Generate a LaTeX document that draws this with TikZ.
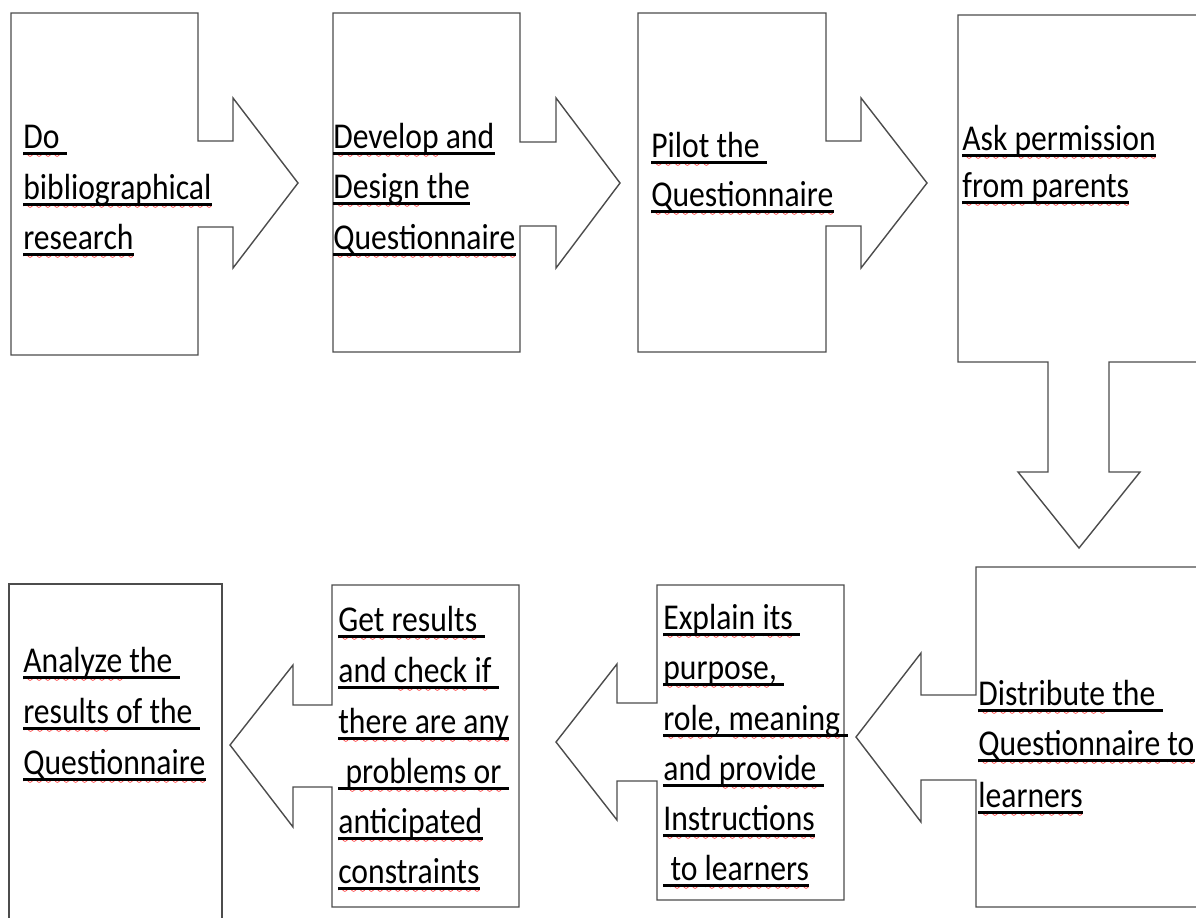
\documentclass[tikz,border=0pt]{standalone}
\usepackage{fontspec}
\setmainfont{Carlito}
\usetikzlibrary{positioning}
\font\wavefont=lasy6
\newsavebox\splbox
% red spell-check wave under a word
\newcommand\spl[1]{\sbox\splbox{#1}\rlap{\lower5.2pt\hbox to \wd\splbox{\xleaders\hbox{\wavefont\textcolor{red}{\char58}}\hfil}}\usebox\splbox}
\newcommand\trail{\ \mbox{}}

\begin{document}
\begin{tikzpicture}[x=0.02cm,y=-0.02cm]
  \tikzset{box/.style={draw=black!70, line width=0.8pt, line join=miter},
    txt/.style={anchor=base west, inner sep=0pt, yscale=1.15, transform shape,
      font=\fontsize{18}{22}\selectfont},
    ul/.style={line width=1.5pt, black}}
  \useasboundingbox (0,0) rectangle (1196,917);
  \clip (0,0) rectangle (1196,917);
  % top row, arrows to the right
  \draw[box] (11,13) -- (198,13) -- (198,141) -- (233,141) -- (233,98) -- (298,183)
    -- (233,268) -- (233,227) -- (198,227) -- (198,355) -- (11,355) -- cycle;
  \draw[box] (333,13) -- (520,13) -- (520,142) -- (556,142) -- (556,98) -- (620,183)
    -- (556,268) -- (556,226) -- (520,226) -- (520,352) -- (333,352) -- cycle;
  \draw[box] (638,13) -- (826,13) -- (826,141) -- (861,141) -- (861,98) -- (927,183)
    -- (861,268) -- (861,226) -- (826,226) -- (826,352) -- (638,352) -- cycle;
  \draw[box] (1230,15) -- (958,15) -- (958,362) -- (1048,362) -- (1048,472) -- (1018,472)
    -- (1079,548) -- (1140,472) -- (1109,472) -- (1109,362) -- (1230,362);
  % bottom row, arrows to the left
  \draw[box] (1230,567) -- (976,567) -- (976,695) -- (921,695) -- (921,653) -- (856,737)
    -- (921,822) -- (921,780) -- (976,780) -- (976,907) -- (1230,907);
  \draw[box] (657,585) -- (844,585) -- (844,900) -- (657,900) -- (657,781) -- (617,781)
    -- (617,820) -- (556,742) -- (617,664) -- (617,703) -- (657,703) -- cycle;
  \draw[box] (332,585) -- (519,585) -- (519,907) -- (332,907) -- (332,787) -- (293,787)
    -- (293,827) -- (230,745) -- (293,665) -- (293,705) -- (332,705) -- cycle;
  \draw[box] (9,940) -- (9,584) -- (222,584) -- (222,940);
  \foreach \px/\py/\txt [count=\i] in {
      23/148/{\spl{Do}\trail}, 23/199/{\spl{bibliographical}}, 23/249/{\spl{research}},
      333/148/{\spl{Develop} and}, 333/198/{\spl{Design} the}, 333/249/{\spl{Questionnaire}},
      651/157/{\spl{Pilot} the\trail}, 651/206/{\spl{Questionnaire}},
      962/150/{\spl{Ask} \spl{permission}}, 962/197/{\spl{from} \spl{parents}},
      978/705/{\spl{Distribute} the\trail}, 978/755/{\spl{Questionnaire} \spl{to}},
      978/807/{\spl{learners}},
      663/629/{\spl{Explain} \spl{its}\trail}, 663/679/{\spl{purpose},\trail},
      663/730/{\spl{role}, \spl{meaning}\trail}, 663/780/{and \spl{provide}\trail},
      663/830/{\spl{Instructions}}, 663/880/{\ \spl{to} \spl{learners}},
      338/631/{\spl{Get} \spl{results}\trail}, 338/682/{and \spl{check} \spl{if}\trail},
      338/733/{\spl{there} \spl{are} \spl{any}}, 338/783/{\ \spl{problems} \spl{or}\trail},
      338/833/{\spl{anticipated}}, 338/883/{\spl{constraints}},
      23/672/{\spl{Analyze} the\trail}, 23/723/{\spl{results} of the\trail},
      23/774/{\spl{Questionnaire}}} {
    \node[txt] (l\i) at (\px,\py) {\txt};
    \draw[ul] ([yshift=-3.2pt]l\i.base west) -- ([yshift=-3.2pt]l\i.base east);
  }
\end{tikzpicture}
\end{document}
